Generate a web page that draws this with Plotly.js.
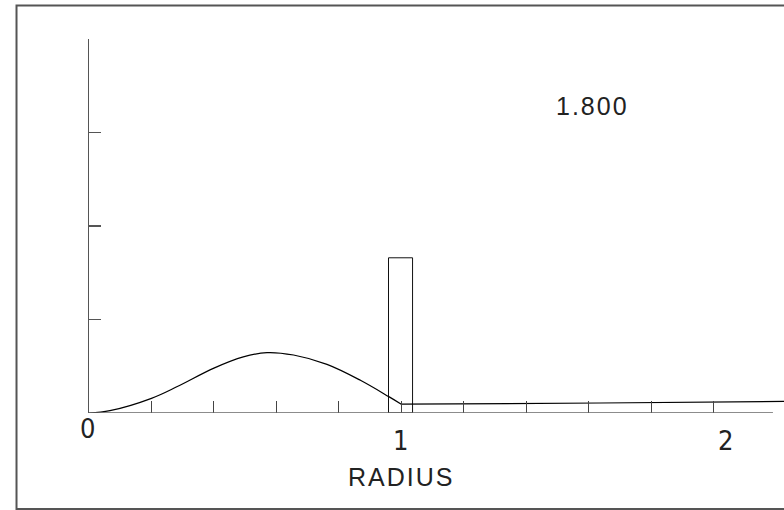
<!DOCTYPE html>
<html>
<head>
<meta charset="utf-8">
<script src="https://cdn.plot.ly/plotly-3.0.1.min.js"></script>
<style>
  html, body { margin: 0; padding: 0; background: #fff; }
  #chart { width: 784px; height: 510px; }
</style>
</head>
<body>
<div id="chart"></div>
<script>
// ---- data ----
const curveX = [0, 0.067, 0.2, 0.281, 0.4, 0.494, 0.57, 0.655, 0.762, 0.869, 0.96, 1.0];
const curveY = [0, 0.025, 0.157, 0.28, 0.48, 0.60, 0.646, 0.62, 0.52, 0.35, 0.175, 0.094];
const tailX = [1.0, 1.2, 1.637, 2.23];
const tailY = [0.094, 0.097, 0.107, 0.124];
const barLeft = [0.959];
const barRight = [1.036];
const barHeight = [1.66];
const xTickVals = [0, 0.2, 0.4, 0.6, 0.8, 1.0, 1.2, 1.4, 1.6, 1.8, 2.0];
const xLabelVals = [0, 1, 2];
const xLabelText = ['0', '1', '2'];
const yTickVals = [0, 1, 2, 3, 4];
const xTitle = 'RADIUS';
const valueLabel = '1.800';

const barCenter = barLeft.map((l, i) => (l + barRight[i]) / 2);
const barWidth = barLeft.map((l, i) => barRight[i] - l);

const traces = [
  {
    type: 'bar', x: barCenter, y: barHeight, width: barWidth,
    marker: { color: 'rgba(0,0,0,0)', line: { color: '#111', width: 1 } },
    hoverinfo: 'skip', showlegend: false
  },
  {
    type: 'scatter', mode: 'lines', x: curveX, y: curveY,
    line: { color: '#000', width: 1.2, shape: 'spline', smoothing: 1 },
    hoverinfo: 'skip', showlegend: false
  },
  {
    type: 'scatter', mode: 'lines', x: tailX, y: tailY,
    line: { color: '#000', width: 1.2 },
    hoverinfo: 'skip', showlegend: false
  }
];

// tick label offsets to match the reference placement
const labelShiftX = [-1.5, -1, 12];
const labelShiftY = [-15, -27, -27];

const annotations = xLabelVals.map((v, i) => ({
  x: v, y: 0, xref: 'x', yref: 'y',
  text: xLabelText[i], showarrow: false,
  xanchor: 'center', yanchor: 'middle',
  xshift: labelShiftX[i], yshift: labelShiftY[i],
  font: { family: 'Liberation Sans Narrow, Arial Narrow, DejaVu Sans Condensed, sans-serif', size: 27, color: '#222' }
}));
annotations.push({
  x: 0.4494, y: -0.171, xref: 'paper', yref: 'paper',
  text: xTitle, showarrow: false, xanchor: 'center', yanchor: 'middle',
  font: { family: 'Liberation Sans, Arial, sans-serif', size: 25, color: '#222' }
});
annotations.push({
  x: 0.725, y: 0.821, xref: 'paper', yref: 'paper',
  text: valueLabel, showarrow: false, xanchor: 'center', yanchor: 'middle',
  font: { family: 'Liberation Sans, Arial, sans-serif', size: 25, color: '#222' }
});

const layout = {
  width: 784, height: 510,
  margin: { l: 89, r: 0, t: 39, b: 97, pad: 0 },
  paper_bgcolor: '#fff', plot_bgcolor: '#fff',
  showlegend: false,
  bargap: 0,
  xaxis: {
    range: [0, 2.2254], showgrid: false, zeroline: false, showline: false,
    ticks: 'inside', ticklen: 12, tickwidth: 1, tickcolor: '#444',
    tickmode: 'array', tickvals: xTickVals, showticklabels: false,
    fixedrange: true
  },
  yaxis: {
    range: [0, 4], showgrid: false, zeroline: false,
    showline: true, linecolor: '#555', linewidth: 1.3,
    ticks: 'inside', ticklen: 12, tickwidth: 1.3, tickcolor: '#555',
    tickmode: 'array', tickvals: yTickVals, showticklabels: false,
    fixedrange: true
  },
  shapes: [
    { type: 'line', xref: 'x', yref: 'y', x0: 0, x1: 2.19, y0: 0, y1: 0,
      line: { color: '#666', width: 1.3 } },
    { type: 'rect', xref: 'paper', yref: 'paper', x0: -0.1043, x1: 1.05, y0: -0.2567, y1: 1.0896,
      line: { color: '#555', width: 2 }, fillcolor: 'rgba(0,0,0,0)', layer: 'below' }
  ],
  annotations: annotations
};

Plotly.newPlot('chart', traces, layout, { displayModeBar: false, staticPlot: true }).then(() => {
  document.querySelectorAll('.annotation-text').forEach(t => {
    if (t.textContent === xTitle || t.textContent === valueLabel) {
      t.style.letterSpacing = '2px';
    }
  });
});
</script>
</body>
</html>
